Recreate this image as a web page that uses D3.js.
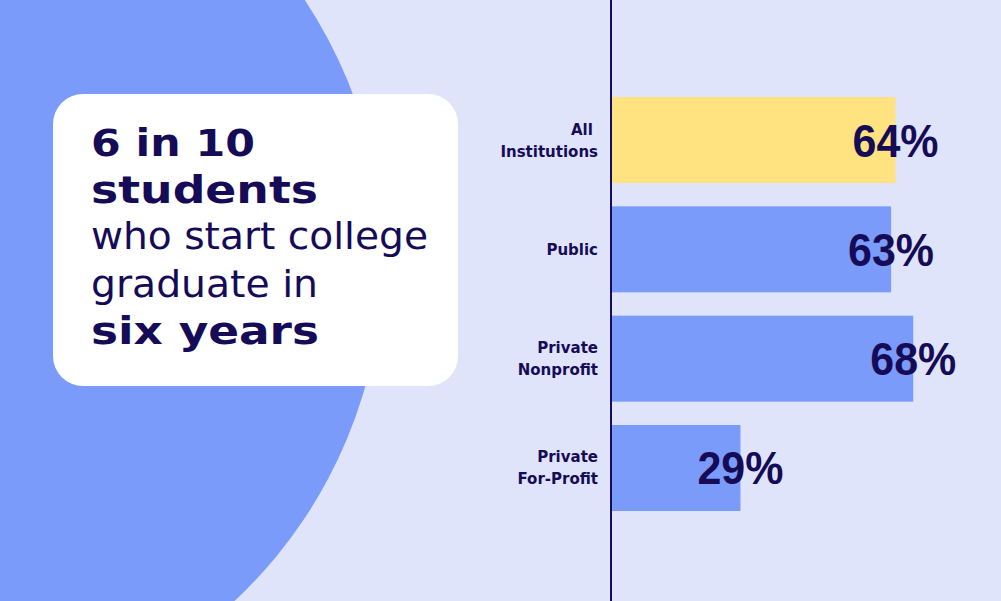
<!DOCTYPE html>
<html>
<head>
<meta charset="utf-8">
<script src="https://cdn.jsdelivr.net/npm/d3@7"></script>
<style>
  html, body { margin: 0; padding: 0; background: #E0E4FA; }
  svg { display: block; }
</style>
</head>
<body>
<svg id="chart" width="1001" height="601"></svg>
<script>
// ---- data ----
const categories = ["All Institutions", "Public", "Private Nonprofit", "Private For-Profit"];
const categoryLines = [["All\u00a0", "Institutions"], ["Public"], ["Private", "Nonprofit"], ["Private", "For-Profit"]];
const values = [64, 63, 68, 29];
const highlight = ["All Institutions"];
const headline = [
  { text: "6 in 10", bold: true },
  { text: "students", bold: true },
  { text: "who start college", bold: false },
  { text: "graduate in", bold: false },
  { text: "six years", bold: true }
];

// ---- styling ----
const W = 1001, H = 601;
const NAVY = "#150B57";
const BLUE = "#7A9BFA";
const YELLOW = "#FFE381";
const BG = "#E0E4FA";

const svg = d3.select("#chart");

svg.append("rect").attr("width", W).attr("height", H).attr("fill", BG);

// decorative circle
svg.append("circle").attr("cx", -85).attr("cy", 259).attr("r", 468).attr("fill", BLUE);

// white card
svg.append("rect")
  .attr("x", 53).attr("y", 94).attr("width", 405).attr("height", 292)
  .attr("rx", 30).attr("ry", 30).attr("fill", "#FFFFFF");

// headline
const headWidths = [164, 227, 337, 227, 228];
const headBaselines = [156, 203, 249, 297, 344];
const head = svg.append("g");
headline.forEach((l, i) => {
  head.append("text")
    .attr("x", 91).attr("y", headBaselines[i])
    .attr("font-family", "DejaVu Sans")
    .attr("font-weight", l.bold ? 700 : 400)
    .attr("font-size", l.bold ? 37 : 38)
    .attr("fill", NAVY)
    .attr("textLength", headWidths[i])
    .attr("lengthAdjust", "spacingAndGlyphs")
    .text(l.text);
});

// scales
const x = d3.scaleLinear().domain([0, 100]).range([612, 1055]);
const y = d3.scaleBand().domain(categories).range([97, 511]).paddingInner(0.2134).paddingOuter(0);

// bars
svg.append("g").selectAll("rect")
  .data(categories)
  .join("rect")
  .attr("x", x(0))
  .attr("y", d => y(d))
  .attr("width", (d, i) => x(values[i]) - x(0))
  .attr("height", y.bandwidth())
  .attr("fill", d => highlight.includes(d) ? YELLOW : BLUE);

// axis line
svg.append("line")
  .attr("x1", 611).attr("x2", 611).attr("y1", 0).attr("y2", H)
  .attr("stroke", NAVY).attr("stroke-width", 2);

// category labels
const lab = svg.append("g");
categories.forEach((c, i) => {
  const lines = categoryLines[i];
  const cy = y(c) + y.bandwidth() / 2;
  const lh = 22;
  const t = lab.append("text")
    .attr("text-anchor", "end")
    .attr("font-family", "DejaVu Sans")
    .attr("font-weight", 700)
    .attr("font-size", 15)
    .attr("fill", NAVY);
  lines.forEach((ln, j) => {
    t.append("tspan")
      .attr("x", 598)
      .attr("y", cy + (j - (lines.length - 1) / 2) * lh + 5.5)
      .text(ln);
  });
});

// value labels
svg.append("g").selectAll("text")
  .data(categories)
  .join("text")
  .attr("x", (d, i) => x(values[i]))
  .attr("y", d => y(d) + y.bandwidth() / 2 + 16.5)
  .attr("text-anchor", "middle")
  .attr("font-family", "Liberation Sans")
  .attr("font-weight", 700)
  .attr("font-size", 46)
  .attr("fill", NAVY)
  .attr("textLength", 86)
  .attr("lengthAdjust", "spacingAndGlyphs")
  .text((d, i) => values[i] + "%");
</script>
</body>
</html>
